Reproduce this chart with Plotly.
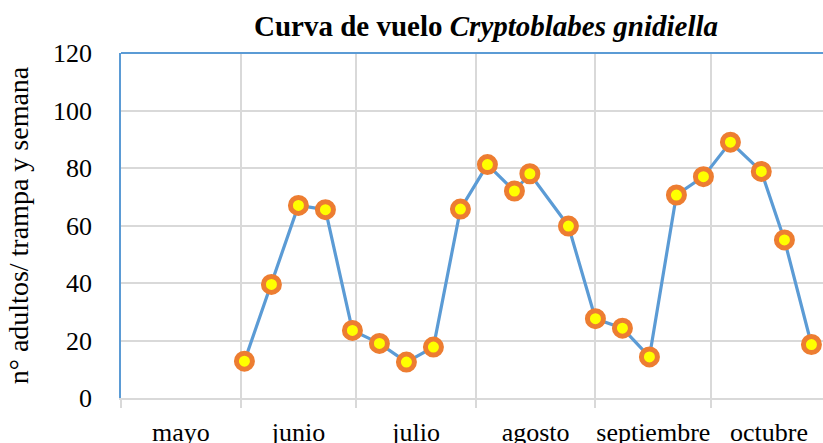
import plotly.graph_objects as go

# Data
fechas = ["2015-06-02", "2015-06-09", "2015-06-16", "2015-06-23", "2015-06-30",
          "2015-07-07", "2015-07-14", "2015-07-21", "2015-07-28",
          "2015-08-04", "2015-08-11", "2015-08-15", "2015-08-25",
          "2015-09-01", "2015-09-08", "2015-09-15", "2015-09-22", "2015-09-29",
          "2015-10-06", "2015-10-14", "2015-10-20", "2015-10-27"]
adultos = [12.8, 39.5, 67, 65.5, 23.5,
           19, 12.5, 17.7, 65.7,
           81.2, 72, 78, 59.8,
           27.6, 24.3, 14.3, 70.6, 77,
           89, 78.8, 55, 18.6]
meses_inicio = "2015-05-01"
rango_fin = "2015-10-30"
y_ticks = [0, 20, 40, 60, 80, 100, 120]
meses = {"May": "mayo", "June": "junio", "July": "julio",
         "August": "agosto", "September": "septiembre", "October": "octubre"}

FONT = "Liberation Serif, Times New Roman, serif"
GRID = "#d9d9d9"
BLUE = "#5b9bd5"

fig = go.Figure()
fig.add_trace(go.Scatter(
    x=fechas, y=adultos, mode="lines+markers",
    line=dict(color=BLUE, width=3.2),
    marker=dict(size=16, color="#ffff00", line=dict(color="#ed7d31", width=5)),
    cliponaxis=False, showlegend=False,
))

fig.update_layout(
    width=823, height=443,
    margin=dict(l=121, r=0, t=53, b=45, autoexpand=False),
    paper_bgcolor="white", plot_bgcolor="white",
    font=dict(family=FONT, color="black", size=26),
    title=dict(text="<b>Curva de vuelo <i>Cryptoblabes gnidiella</i></b>",
               x=486 / 823, xanchor="center", xref="container",
               y=1 - 26 / 443, yanchor="middle", yref="container",
               font=dict(family=FONT, size=29, color="black")),
    xaxis=dict(type="date", range=[meses_inicio, rango_fin], automargin=False,
               tick0=meses_inicio, dtick="M1", tickformat="%B",
               ticklabelmode="period", labelalias=meses,
               showgrid=True, gridcolor=GRID, gridwidth=1.5,
               showline=True, linecolor=GRID, linewidth=1.5,
               ticks="outside", ticklen=8, tickcolor=GRID, tickwidth=1.5,
               ticklabelstandoff=2,
               tickfont=dict(size=26), zeroline=False),
    yaxis=dict(range=[0, 120], tickvals=y_ticks, automargin=False,
               showgrid=True, gridcolor=GRID, gridwidth=1.5,
               showline=True, linecolor=BLUE, linewidth=1.5,
               zeroline=False, ticks="", ticklabelstandoff=22,
               tickfont=dict(size=26),
               title=dict(text="n° adultos/ trampa y semana",
                          font=dict(size=28), standoff=16)),
    shapes=[dict(type="line", xref="paper", yref="paper", x0=0, x1=1, y0=1, y1=1,
                 line=dict(color=BLUE, width=2))],
)

fig.write_html("out.html", config={"displayModeBar": False},
               post_script="document.body.style.margin='0px';")
